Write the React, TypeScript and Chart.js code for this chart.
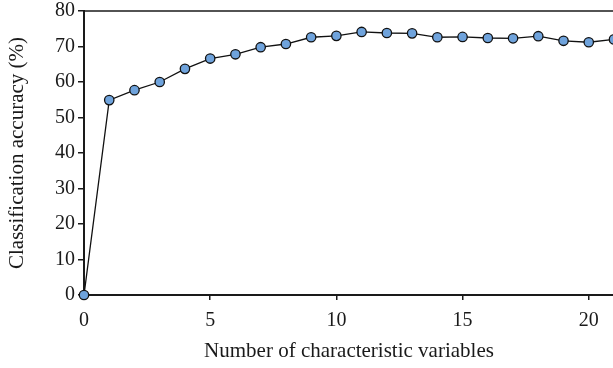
import React, { useEffect, useRef } from "react";
import { Chart, registerables } from "chart.js";

Chart.register(...registerables);

const xValues = [0, 1, 2, 3, 4, 5, 6, 7, 8, 9, 10, 11, 12, 13, 14, 15, 16, 17, 18, 19, 20, 21];
const accuracy = [0, 54.9, 57.7, 60.0, 63.7, 66.6, 67.8, 69.8, 70.7, 72.6, 73.0, 74.1, 73.8, 73.7, 72.6, 72.7, 72.4, 72.3, 72.9, 71.6, 71.2, 72.0];
const xTicks = [0, 5, 10, 15, 20];
const yTicks = [0, 10, 20, 30, 40, 50, 60, 70, 80];

const FONT = "'Liberation Serif', serif";

const topBorder = {
  id: "topBorder",
  afterDraw(chart: any) {
    const { ctx, chartArea } = chart;
    ctx.save();
    ctx.strokeStyle = "#1a1a1a";
    ctx.lineWidth = 1.5;
    ctx.beginPath();
    ctx.moveTo(chartArea.left, chartArea.top);
    ctx.lineTo(chartArea.right + 10, chartArea.top);
    ctx.stroke();
    ctx.restore();
  },
};

export default function App() {
  const ref = useRef<HTMLCanvasElement | null>(null);
  useEffect(() => {
    if (!ref.current) return;
    const chart = new Chart(ref.current, {
      type: "line",
      data: {
        datasets: [
          {
            data: xValues.map((x, i) => ({ x, y: accuracy[i] })),
            borderColor: "#111111",
            borderWidth: 1.3,
            pointRadius: 4.7,
            pointBackgroundColor: "#6fa3dc",
            pointBorderColor: "#111111",
            pointBorderWidth: 1.3,
            tension: 0,
            clip: false as any,
          },
        ],
      },
      plugins: [topBorder],
      options: {
        animation: false,
        responsive: false,
        layout: { padding: { top: 11, right: 0, left: 0, bottom: 0 } },
        plugins: { legend: { display: false }, tooltip: { enabled: false } },
        scales: {
          x: {
            type: "linear",
            min: 0,
            max: 21,
            afterBuildTicks: (s: any) => {
              s.ticks = xTicks.map((v) => ({ value: v }));
            },
            afterFit: (s: any) => {
              s.height = 73;
            },
            grid: { drawOnChartArea: false, tickLength: 5, color: "#1a1a1a", lineWidth: 1.5 },
            border: { color: "#1a1a1a", width: 2 },
            ticks: { color: "#1a1a1a", font: { family: FONT, size: 20 }, padding: 9, maxRotation: 0 },
            title: {
              display: true,
              text: "Number of characteristic variables",
              color: "#1a1a1a",
              font: { family: FONT, size: 21 },
              padding: { top: 4, bottom: 4 },
            },
          },
          y: {
            min: 0,
            max: 80,
            afterBuildTicks: (s: any) => {
              s.ticks = yTicks.map((v) => ({ value: v }));
            },
            afterFit: (s: any) => {
              s.width = 84;
              s.paddingTop = 0;
              s.paddingBottom = 0;
            },
            grid: { drawOnChartArea: false, tickLength: 6, color: "#1a1a1a", lineWidth: 1.5 },
            border: { color: "#1a1a1a", width: 2 },
            ticks: { color: "#1a1a1a", font: { family: FONT, size: 20, lineHeight: 1 }, padding: 3 },
            title: {
              display: true,
              text: "Classification accuracy (%)",
              color: "#1a1a1a",
              font: { family: FONT, size: 21 },
              padding: { top: 5, bottom: 4 },
            },
          },
        },
      },
    });
    return () => chart.destroy();
  }, []);
  return (
    <div style={{ position: "absolute", left: 0, top: 0, width: 613, height: 368, overflow: "hidden", background: "#fff" }}>
      <canvas ref={ref} width={620} height={368} style={{ width: 620, height: 368, display: "block" }} />
    </div>
  );
}
